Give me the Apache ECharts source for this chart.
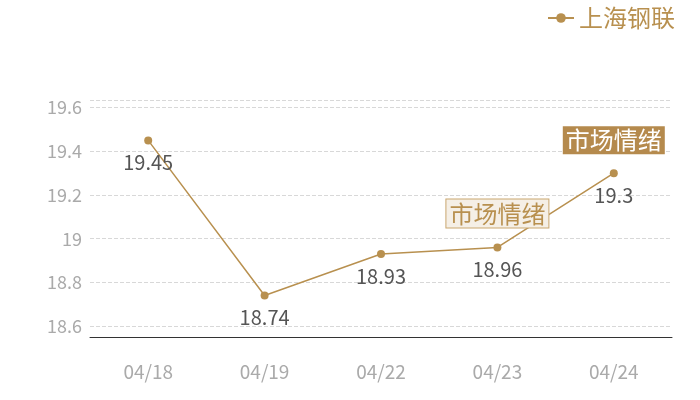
<!DOCTYPE html>
<html><head><meta charset="utf-8">
<script src="https://cdn.jsdelivr.net/npm/echarts@6/dist/echarts.min.js"></script>
<style>html,body{margin:0;padding:0;background:#fff}#c{width:700px;height:400px}</style>
</head><body><div id="c"></div>
<script>
const categories = ['04/18', '04/19', '04/22', '04/23', '04/24'];
const seriesName = '上海钢联';
const values = [19.45, 18.74, 18.93, 18.96, 19.3];
const markLabels = ['市场情绪', '市场情绪'];
const markAt = [3, 4];

const gold = '#b8904f';
const font = '"Noto Sans CJK SC", "Noto Sans", sans-serif';
const chart = echarts.init(document.getElementById('c'));
chart.setOption({
  animation: false,
  textStyle: { fontFamily: font },
  legend: {
    data: [seriesName], right: 20, top: 1,
    itemWidth: 26, itemHeight: 12, itemGap: 10,
    textStyle: { color: gold, fontSize: 24, fontFamily: font }
  },
  grid: { left: 90, right: 28, top: 100, bottom: 63 },
  xAxis: {
    type: 'category', data: categories, boundaryGap: true,
    axisLine: { lineStyle: { color: '#333', width: 1 } },
    axisTick: { show: false },
    axisLabel: { color: '#aaa', fontSize: 19, margin: 25, fontFamily: font }
  },
  yAxis: {
    type: 'value', min: 18.55, max: 19.635, splitNumber: 5,
    axisLine: { show: false }, axisTick: { show: false },
    axisLabel: { color: '#aaa', fontSize: 18, margin: 8, showMinLabel: false, showMaxLabel: false, fontFamily: font,
      formatter: v => String(Math.round(v * 10) / 10) },
    splitLine: { lineStyle: { color: '#d8d8d8', type: 'dashed' } }
  },
  series: [{
    name: seriesName, type: 'line', data: values,
    symbol: 'circle', symbolSize: 8,
    itemStyle: { color: gold },
    lineStyle: { color: gold, width: 1.5 },
    label: { show: true, position: 'bottom', distance: 8, color: '#555', fontSize: 20, fontFamily: font },
    markPoint: {
      symbol: 'rect', symbolSize: 0,
      data: [
        { coord: [categories[markAt[0]], values[markAt[0]]], value: markLabels[0],
          label: { show: true, position: 'inside', offset: [0, -34], formatter: markLabels[0],
            color: gold, fontSize: 24, fontFamily: font, backgroundColor: '#f5efe6',
            borderColor: '#c9a66e', borderWidth: 1, padding: [3, 3, 1, 3] } },
        { coord: [categories[markAt[1]], values[markAt[1]]], value: markLabels[1],
          label: { show: true, position: 'inside', offset: [0, -33], formatter: markLabels[1],
            color: '#fff', fontSize: 24, fontFamily: font, backgroundColor: '#b58a4d',
            padding: [3, 3, 1, 3] } }
      ]
    }
  }]
});
</script></body></html>
